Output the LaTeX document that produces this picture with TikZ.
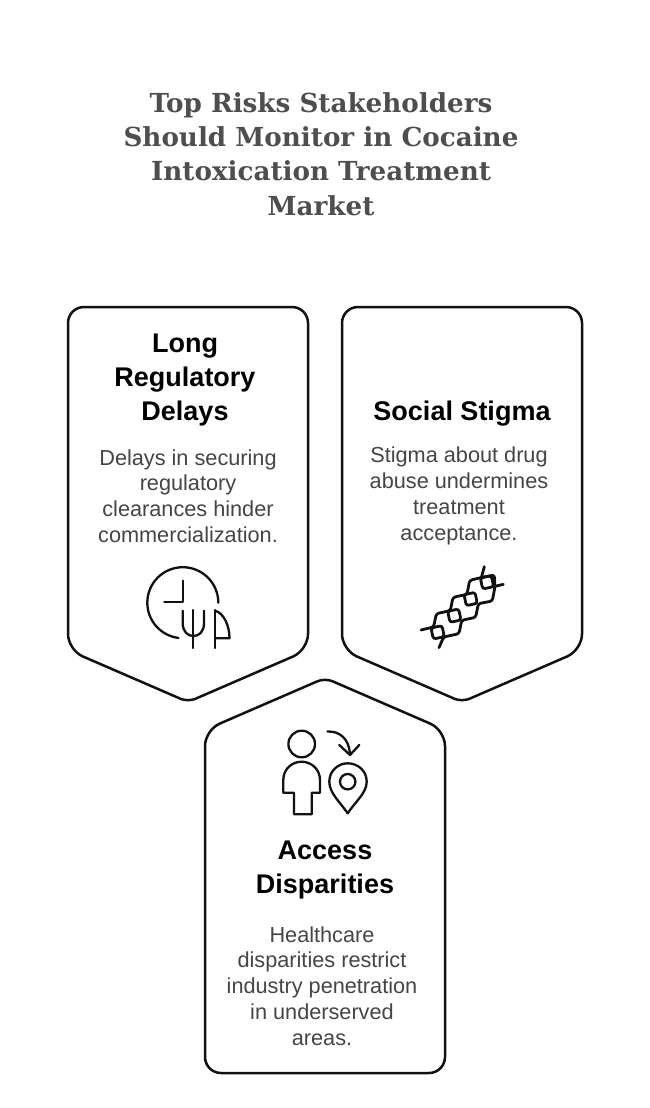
\documentclass[tikz,border=0pt]{standalone}
\usepackage{fontspec}
\setmainfont{Liberation Sans}
\newfontfamily\titlefont{DejaVu Serif}
\definecolor{titlegray}{HTML}{4D4F4F}
\definecolor{bodygray}{HTML}{454545}
\definecolor{linek}{HTML}{111111}
\tikzset{
  card/.style={draw=linek,line width=2.5pt,rounded corners=16pt,line join=round},
  icon/.style={draw=linek,line width=2.3pt,line cap=round,line join=round},
  chainline/.style={icon,line width=2.8pt,rounded corners=2.5pt},
  titletext/.style={align=center,inner sep=0,text=titlegray,font=\titlefont\bfseries\fontsize{26.2}{34.2}\selectfont},
  headtext/.style={align=center,inner sep=0,text=black,font=\bfseries\fontsize{27}{34}\selectfont},
  bodytext/.style={align=center,inner sep=0,text=bodygray,font=\fontsize{21.7}{25.8}\selectfont}
}
\begin{document}
\begin{tikzpicture}[x=1pt,y=-1pt]
\useasboundingbox (0,0) rectangle (650,1108);
\fill[white] (0,0) rectangle (650,1108);
\node[titletext] (title) at (321,154) {Top Risks Stakeholders\\Should Monitor in Cocaine\\Intoxication Treatment\\Market};
% cards
\draw[card] (68,307) -- (308,307) -- (308,650) [rounded corners=8pt] -- (188,702) [rounded corners=16pt] -- (68,650) -- cycle;
\draw[card] (342,307) -- (582,307) -- (582,650) [rounded corners=8pt] -- (462,702) [rounded corners=16pt] -- (342,650) -- cycle;
\draw[card] (205,1073) -- (445,1073) -- (445,730) [rounded corners=8pt] -- (325,678) [rounded corners=16pt] -- (205,730) -- cycle;
% texts
\node[headtext] (h1) at (185,380) {Long\\Regulatory\\Delays};
\node[bodytext] (b1) at (188,496) {Delays in securing\\regulatory\\clearances hinder\\commercialization.};
\node[headtext] (h2) at (462,414) {Social Stigma};
\node[bodytext] (b2) at (459,496) {Stigma about drug\\abuse undermines\\treatment\\acceptance.};
\node[headtext] (h3) at (325,870) {Access\\Disparities};
\node[bodytext] (b3) at (322,986) {Healthcare\\disparities restrict\\industry penetration\\in underserved\\areas.};
% clock icon
\draw[icon] (218.3,602.7) arc[start angle=0,end angle=263,radius=35.5pt];
\draw[icon] (182.7,580.7) -- (182.7,602.3) -- (164.3,602.3);
\draw[icon] (193.3,610) -- (193.3,648);
\draw[icon] (182.7,610.7) -- (182.7,623) .. controls (182.7,632) and (188,636) .. (193.3,636) .. controls (199,636) and (204,632) .. (204,623) -- (204,610.7);
\draw[icon] (215,610) -- (215,648);
\draw[icon] (215,610.7) .. controls (224,613) and (229.5,626) .. (229.5,638.3) -- (215,638.3);
% chain icon
\begin{scope}[shift={(405,555)},x=0.3333pt,y=-0.3333pt]
\draw[chainline] (48,225) -- (86,216) -- (94,176) -- (136,167) -- (144,127) -- (186,118) -- (194,76) -- (236,66) -- (268,60) -- (270,95) -- (262,138) -- (220,146) -- (212,187) -- (170,196) -- (162,236) -- (116,246) -- (102,278);
\draw[chainline] (238,35) -- (228,72);
\draw[chainline] (295,88) -- (266,95);
\foreach \cx/\cy in {98/232,148/182,197/132,246/82}{
  \draw[chainline] (\cx-20,\cy-13) -- (\cx+13,\cy-20) -- (\cx+20,\cy+13) -- (\cx-13,\cy+20) -- cycle;
}
\end{scope}
% person and pin icon
\draw[icon] (301.7,744) circle[radius=13.3pt];
\draw[icon] (294,814.3) -- (311.7,814.3) -- (311.7,792.7) -- (320,792.7) -- (320,780) .. controls (320,769) and (311,761.7) .. (301.7,761.7) .. controls (292,761.7) and (283.3,769) .. (283.3,780) -- (283.3,792.7) -- (294,792.7) -- cycle;
\draw[icon] (327.5,731.5) .. controls (340,731) and (349,739) .. (350,754);
\draw[icon] (339.3,745) -- (350,755) -- (359.3,745);
\draw[icon] (347.7,781.7) circle[radius=7.7pt];
\draw[icon] (347.7,813.3) .. controls (340,802) and (329.3,793) .. (329.3,781.7) .. controls (329.3,771) and (338,763.3) .. (347.7,763.3) .. controls (358,763.3) and (366.7,771) .. (366.7,781.7) .. controls (366.7,793) and (355,802) .. (347.7,813.3) -- cycle;
\end{tikzpicture}
\end{document}
